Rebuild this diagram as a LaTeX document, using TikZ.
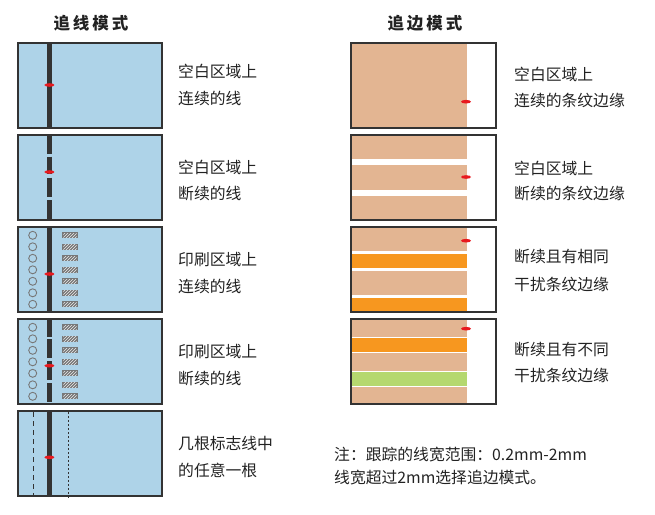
\documentclass[tikz,border=0pt]{standalone}
\usepackage{fontspec}
\setmainfont{Noto Sans CJK SC}
\usetikzlibrary{patterns}
\definecolor{bluebg}{HTML}{AED3E8}
\definecolor{beige}{HTML}{E3B592}
\definecolor{orng}{HTML}{F7971F}
\definecolor{grn}{HTML}{B5D86F}
\definecolor{frame}{HTML}{333333}
\definecolor{redm}{HTML}{E8191E}
\definecolor{txt}{HTML}{222222}
\definecolor{hatch}{HTML}{777777}
\tikzset{
  frm/.style={draw=frame,line width=2pt},
  thick line/.style={draw=frame,line width=5pt},
  redmark/.style={fill=redm,draw=none},
  lbl/.style={anchor=west,inner sep=0pt,text=txt,font=\fontsize{15.8}{15.8}\selectfont},
  ttl/.style={inner sep=0pt,text=txt,font=\fontsize{16.5}{16.5}\selectfont\bfseries},
  circ/.style={draw=hatch,line width=0.9pt},
}
\newcommand{\hatchrect}[1]{%
  \fill[hatch] (62.3,#1-3) rectangle (77.7,#1+3);
  \fill[pattern=north east lines,pattern color=white!85!gray] (63.3,#1-2.2) rectangle (76.7,#1+2.2);
}
\begin{document}
\begin{tikzpicture}[x=1pt,y=-1pt]
\useasboundingbox (0,0) rectangle (655,514);
% titles
\node[ttl] (t1) at (91,23) {追\hspace{3pt}线\hspace{3pt}模\hspace{3pt}式};
\node[ttl] (t2) at (425,23) {追\hspace{3pt}边\hspace{3pt}模\hspace{3pt}式};
% ---------- left boxes ----------
\foreach \T in {42,134,226,318,410}{
  \fill[bluebg] (18,\T+1) rectangle (162,\T+86);
}
% box 1
\draw[thick line] (49.3,43) -- (49.3,128);
% box 2
\foreach \a/\b in {135/154,156.5/174,177.5/197,200/219}{\draw[thick line,line cap=butt] (49.3,\a) -- (49.3,\b);}
% box 3
\draw[thick line] (49.3,227) -- (49.3,312);
\foreach \y in {235.3,246.8,258.3,269.8,281.3,292.8,304.3}{
  \draw[circ] (32.7,\y) circle (4);
  \hatchrect{\y}
}
% box 4
\foreach \a/\b in {319/336.7,339/358,361/379.7,383/401.7}{\draw[thick line] (49.3,\a) -- (49.3,\b);}
\foreach \y in {327.3,338.8,350.3,361.8,373.3,384.8,396.3}{
  \draw[circ] (32.7,\y) circle (4);
  \hatchrect{\y}
}
% box 5
\draw[frame,line width=1pt,dash pattern=on 5pt off 4pt] (33.3,412) -- (33.3,495);
\draw[frame,line width=1pt,dash pattern=on 2pt off 2pt] (68.3,412) -- (68.3,499);
\draw[thick line] (49.3,411) -- (49.3,496);
% frames
\foreach \T in {42,134,226,318,410}{
  \draw[frm] (18,\T+1) rectangle (162,\T+86);
}
% red marks left
\foreach \y in {85,172,274,365.7,457.3}{
  \fill[redmark] (49.4,\y) ellipse (5 and 1.8);
}
% ---------- right boxes ----------
\fill[beige] (351,43) rectangle (467,128);
\fill[beige] (351,135) rectangle (467,159);
\fill[beige] (351,165) rectangle (467,190);
\fill[beige] (351,196) rectangle (467,220);
\fill[beige] (351,227) rectangle (467,251);
\fill[orng] (351,254) rectangle (467,267.7);
\fill[beige] (351,271) rectangle (467,294.7);
\fill[orng] (351,298) rectangle (467,312);
\fill[beige] (351,319) rectangle (467,337.3);
\fill[orng] (351,338.3) rectangle (467,352.3);
\fill[beige] (351,353.3) rectangle (467,371);
\fill[grn] (351,372) rectangle (467,386);
\fill[beige] (351,387) rectangle (467,404);
\foreach \T in {42,134,226,318}{
  \draw[frm] (351,\T+1) rectangle (496,\T+86);
}
\foreach \y in {101.7,177,240.7,328.7}{
  \fill[redmark] (466,\y) ellipse (5 and 1.8);
}
% ---------- labels ----------
\node[lbl] (l1a) at (178,71) {空白区域上};
\node[lbl] (l1b) at (178,98) {连续的线};
\node[lbl] (l2a) at (178,167) {空白区域上};
\node[lbl] (l2b) at (178,194) {断续的线};
\node[lbl] (l3a) at (178,259) {印刷区域上};
\node[lbl] (l3b) at (178,286) {连续的线};
\node[lbl] (l4a) at (178,351) {印刷区域上};
\node[lbl] (l4b) at (178,378) {断续的线};
\node[lbl] (l5a) at (178,443) {几根标志线中};
\node[lbl] (l5b) at (178,470) {的任意一根};
\node[lbl] (r1a) at (514,74) {空白区域上};
\node[lbl] (r1b) at (514,100) {连续的条纹边缘};
\node[lbl] (r2a) at (514,168) {空白区域上};
\node[lbl] (r2b) at (514,194) {断续的条纹边缘};
\node[lbl] (r3a) at (514,257) {断续且有相同};
\node[lbl] (r3b) at (514,284) {干扰条纹边缘};
\node[lbl] (r4a) at (514,350) {断续且有不同};
\node[lbl] (r4b) at (514,375) {干扰条纹边缘};
\node[lbl] (n1) at (334,455) {注：跟踪的线宽范围：0.2mm-2mm};
\node[lbl] (n2) at (334,478) {线宽超过2mm选择追边模式。};
\end{tikzpicture}
\end{document}
